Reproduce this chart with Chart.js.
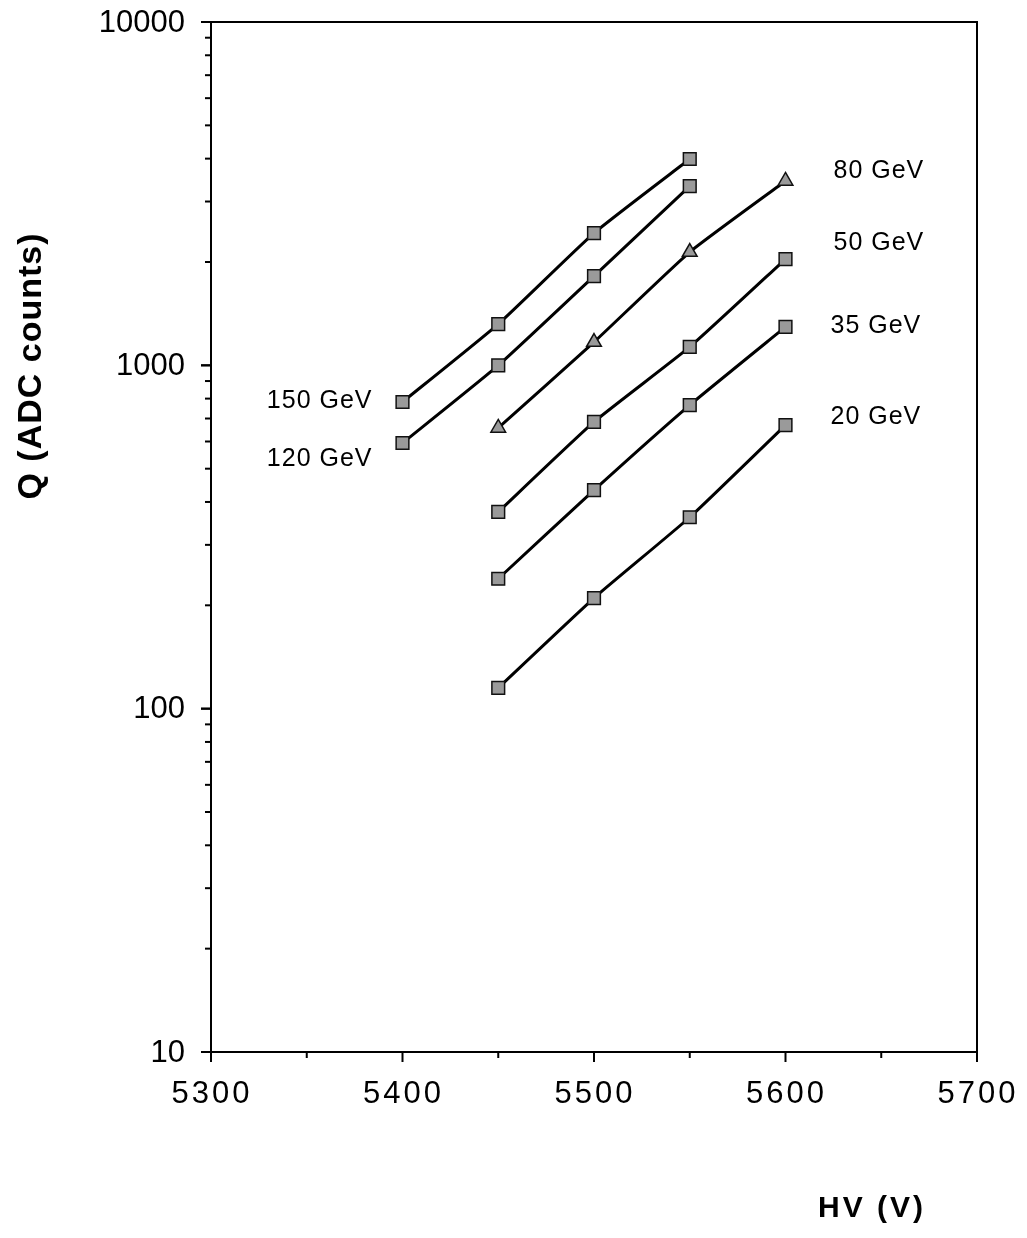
<!DOCTYPE html>
<html lang="en">
<head>
  <meta charset="UTF-8" />
  <title>Q vs HV</title>
  <script src="https://cdn.jsdelivr.net/npm/chart.js"></script>
  <style>
    html, body { margin: 0; padding: 0; background: #fff; }
    #wrap { width: 1027px; height: 1238px; position: relative; }
  </style>
</head>
<body>
<div id="wrap"><canvas id="grafik"></canvas></div>
<script>
  // values (HV in volts, Q in ADC counts)
  const hv = [5400, 5450, 5500, 5550, 5600];
  const q150 = [782, 1319, 2428, 3990, null];
  const q120 = [594, 1000, 1820, 3327, null];
  const q80  = [null, 657, 1169, 2138, 3443];
  const q50  = [null, 374, 684, 1131, 2040];
  const q35  = [null, 239, 433, 766, 1294];
  const q20  = [null, 115, 210, 361, 670];
  const energyLabels = ['150 GeV', '120 GeV', '80 GeV', '50 GeV', '35 GeV', '20 GeV'];
  const xTicks = [5300, 5400, 5500, 5600, 5700];
  const yTicks = [10, 100, 1000, 10000];

  const FONT = '"Liberation Sans", Arial, Helvetica, sans-serif';

  function serie(vals, label, style) {
    return {
      label: label,
      data: hv.map((x, i) => ({ x: x, y: vals[i] })).filter(p => p.y !== null),
      borderColor: '#000',
      borderWidth: 3,
      backgroundColor: '#9a9a9a',
      pointBackgroundColor: '#9a9a9a',
      pointBorderColor: '#111',
      pointBorderWidth: 1.5,
      pointStyle: style,
      pointRadius: style === 'triangle' ? 8.5 : 9,
      tension: 0.15,
      fill: false
    };
  }

  // label placement: side of the curve and pixel offset
  const labelPos = [
    { side: 'left', dx: -30, dy: -1 },
    { side: 'left', dx: -30, dy: 16 },
    { side: 'right', dx: 48, dy: -10 },
    { side: 'right', dx: 48, dy: -16 },
    { side: 'right', dx: 45, dy: -1 },
    { side: 'right', dx: 45, dy: -8 }
  ];

  const extras = {
    id: 'extras',
    afterDraw(chart) {
      const c = chart.ctx;
      const xs = chart.scales.x, ys = chart.scales.y;
      const a = chart.chartArea;
      c.save();
      c.strokeStyle = '#000';
      c.lineWidth = 2;
      // box
      c.strokeRect(a.left, a.top, a.right - a.left, a.bottom - a.top);
      // y ticks (outward, left)
      for (let d = 10; d < 10000; d *= 10) {
        for (let k = 1; k <= 10; k++) {
          const py = ys.getPixelForValue(d * k);
          const len = (k === 1 || k === 10) ? 10 : 6;
          c.beginPath();
          c.moveTo(a.left - len, py);
          c.lineTo(a.left, py);
          c.stroke();
        }
      }
      // x ticks (outward, down)
      for (let v = 5300; v <= 5700; v += 50) {
        const px = xs.getPixelForValue(v);
        const len = v % 100 === 0 ? 10 : 6;
        c.beginPath();
        c.moveTo(px, a.bottom);
        c.lineTo(px, a.bottom + len);
        c.stroke();
      }
      c.fillStyle = '#000';
      c.textBaseline = 'middle';
      // tick labels
      c.font = '31px ' + FONT;
      c.letterSpacing = '3px';
      c.textAlign = 'center';
      xTicks.forEach(v => c.fillText(String(v), xs.getPixelForValue(v) + 1, a.bottom + 42));
      c.letterSpacing = '0px';
      c.textAlign = 'right';
      yTicks.forEach(v => c.fillText(String(v), a.left - 26, ys.getPixelForValue(v) + 1));
      // energy labels
      c.font = '25px ' + FONT;
      c.letterSpacing = '1px';
      chart.data.datasets.forEach((ds, i) => {
        const pts = ds.data;
        const lp = labelPos[i];
        const p = lp.side === 'left' ? pts[0] : pts[pts.length - 1];
        const px = xs.getPixelForValue(p.x);
        const py = ys.getPixelForValue(p.y);
        c.textAlign = lp.side === 'left' ? 'right' : 'left';
        c.fillText(energyLabels[i], px + lp.dx, py + lp.dy);
      });
      // axis titles
      c.font = 'bold 34px ' + FONT;
      c.letterSpacing = '1px';
      c.textAlign = 'center';
      c.save();
      c.translate(32, 366);
      c.rotate(-Math.PI / 2);
      c.fillText('Q (ADC counts)', 0, 0);
      c.restore();
      c.font = 'bold 30px ' + FONT;
      c.letterSpacing = '3px';
      c.fillText('HV (V)', 872, 1209);
      c.restore();
    }
  };

  const ctx = document.getElementById('grafik').getContext('2d');
  const chart = new Chart(ctx, {
    type: 'line',
    data: {
      datasets: [
        serie(q150, '150 GeV', 'rect'),
        serie(q120, '120 GeV', 'rect'),
        serie(q80, '80 GeV', 'triangle'),
        serie(q50, '50 GeV', 'rect'),
        serie(q35, '35 GeV', 'rect'),
        serie(q20, '20 GeV', 'rect')
      ]
    },
    options: {
      responsive: true,
      maintainAspectRatio: false,
      animation: false,
      layout: { padding: { left: 0, top: 22, right: 50, bottom: 0 } },
      plugins: { legend: { display: false }, tooltip: { enabled: false } },
      scales: {
        x: {
          type: 'linear',
          min: 5300,
          max: 5700,
          afterBuildTicks: s => { s.ticks = xTicks.map(v => ({ value: v })); },
          afterFit: s => { s.height = 186; },
          grid: { display: false, drawTicks: false },
          border: { display: false },
          ticks: { display: false }
        },
        y: {
          type: 'logarithmic',
          min: 10,
          max: 10000,
          afterBuildTicks: s => { s.ticks = yTicks.map(v => ({ value: v })); },
          afterFit: s => { s.width = 211; },
          grid: { display: false, drawTicks: false },
          border: { display: false },
          ticks: { display: false }
        }
      }
    },
    plugins: [extras]
  });
</script>
</body>
</html>
